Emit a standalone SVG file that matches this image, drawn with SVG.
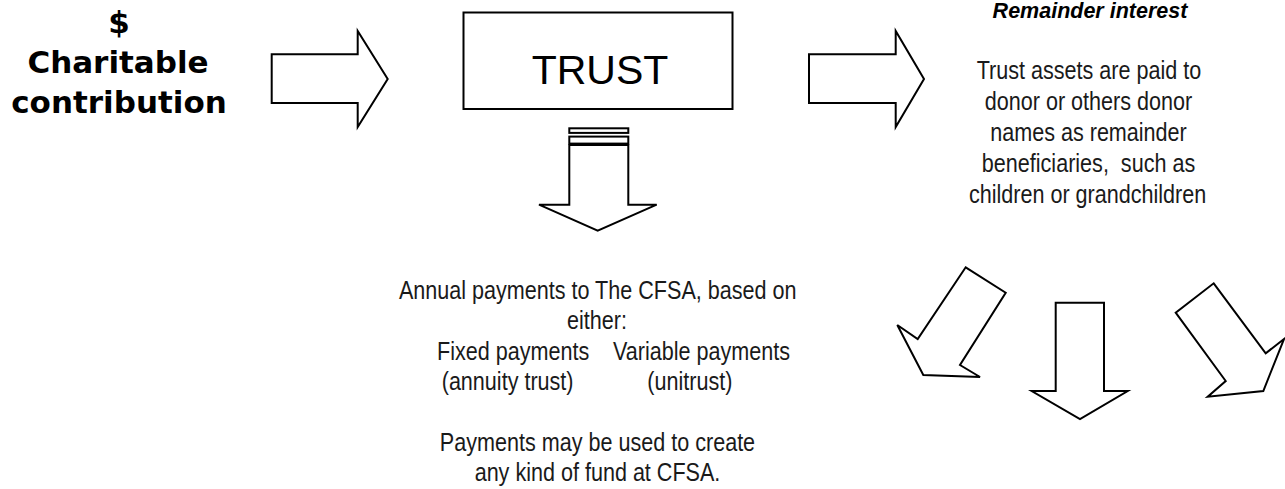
<svg xmlns="http://www.w3.org/2000/svg" width="1285" height="489" viewBox="0 0 1285 489">
  <style>
    .shape { fill: #ffffff; stroke: #000000; stroke-width: 2; stroke-linejoin: miter; }
    .lead { font-family: "DejaVu Sans", Verdana, sans-serif; font-weight: bold; font-size: 31px; fill: #000; text-anchor: middle; }
    .title { font-family: "Liberation Sans", Arial, sans-serif; font-size: 41px; fill: #000; text-anchor: middle; }
    .narrow { font-family: "Liberation Sans", Arial, sans-serif; font-size: 26px; fill: #1a1a1a; white-space: pre; }
    .mid { text-anchor: middle; }
    .head { font-family: "Liberation Sans", Arial, sans-serif; font-size: 21.5px; font-weight: bold; font-style: italic; fill: #000; text-anchor: middle; }
  </style>

  <!-- Donor contribution label -->
  <g id="contribution">
    <text class="lead" x="119" y="33">$</text>
    <text class="lead" x="118" y="73">Charitable</text>
    <text class="lead" x="119" y="113">contribution</text>
  </g>

  <!-- Trust box -->
  <g id="trust">
    <rect class="shape" x="463.5" y="12.5" width="269" height="96.5"/>
    <text class="title" x="600" y="83.5">TRUST</text>
  </g>

  <!-- Income stream description -->
  <g id="payments">
    <text class="narrow mid" transform="translate(597.7 299) scale(0.83 1)">Annual payments to The CFSA, based on</text>
    <text class="narrow mid" transform="translate(597 329.3) scale(0.83 1)">either:</text>
    <text class="narrow" transform="translate(437 359.6) scale(0.83 1)">Fixed payments</text>
    <text class="narrow" transform="translate(613 359.6) scale(0.83 1)">Variable payments</text>
    <text class="narrow" transform="translate(441.7 389.9) scale(0.83 1)">(annuity trust)</text>
    <text class="narrow" transform="translate(647.3 389.9) scale(0.83 1)">(unitrust)</text>
    <text class="narrow mid" transform="translate(597.5 450.5) scale(0.83 1)">Payments may be used to create</text>
    <text class="narrow mid" transform="translate(597.5 480.8) scale(0.83 1)">any kind of fund at CFSA.</text>
  </g>

  <!-- Remainder description -->
  <g id="remainder">
    <text class="head" x="1090" y="17.5">Remainder interest</text>
    <text class="narrow mid" transform="translate(1089 78.5) scale(0.83 1)">Trust assets are paid to</text>
    <text class="narrow mid" transform="translate(1088.5 109.5) scale(0.83 1)">donor or others donor</text>
    <text class="narrow mid" transform="translate(1088.5 140.5) scale(0.83 1)">names as remainder</text>
    <text class="narrow mid" transform="translate(1088.5 171.5) scale(0.83 1)">beneficiaries,  such as</text>
    <text class="narrow mid" transform="translate(1087.6 202.5) scale(0.83 1)">children or grandchildren</text>
  </g>

  <!-- Block arrows -->
  <g id="connectors">
    <polygon id="arrow-in" class="shape" points="271.7,54.3 357.7,54.3 357.7,31 387.7,79 357.7,127 357.7,103 271.7,103"/>
    <polygon id="arrow-remainder" class="shape" points="809,54.3 895.7,54.3 895.7,31 924,79 895.7,127 895.7,103 809,103"/>
    <g id="arrow-payments">
      <rect class="shape" x="569.3" y="128.3" width="59" height="4.6"/>
      <rect class="shape" x="569.3" y="136.6" width="59" height="7"/>
      <polygon class="shape" points="569.3,145 628.3,145 628.3,204.7 656.7,204.7 597.7,230.7 539,204.7 569.3,204.7"/>
    </g>
    <polygon id="arrow-left" class="shape" points="965.7,267.3 1005.7,292.7 960,365 980,377 923.3,375 897.3,325 917.7,339"/>
    <polygon id="arrow-down" class="shape" points="1055.7,302.7 1104,302.7 1104,391 1127.7,391 1080,419 1031.7,391 1055.7,391"/>
    <polygon id="arrow-right" class="shape" points="1213.7,283.3 1265.7,353.3 1284,339 1263.3,391 1207.7,396.7 1225.7,381 1175.7,312.7"/>
  </g>
</svg>
